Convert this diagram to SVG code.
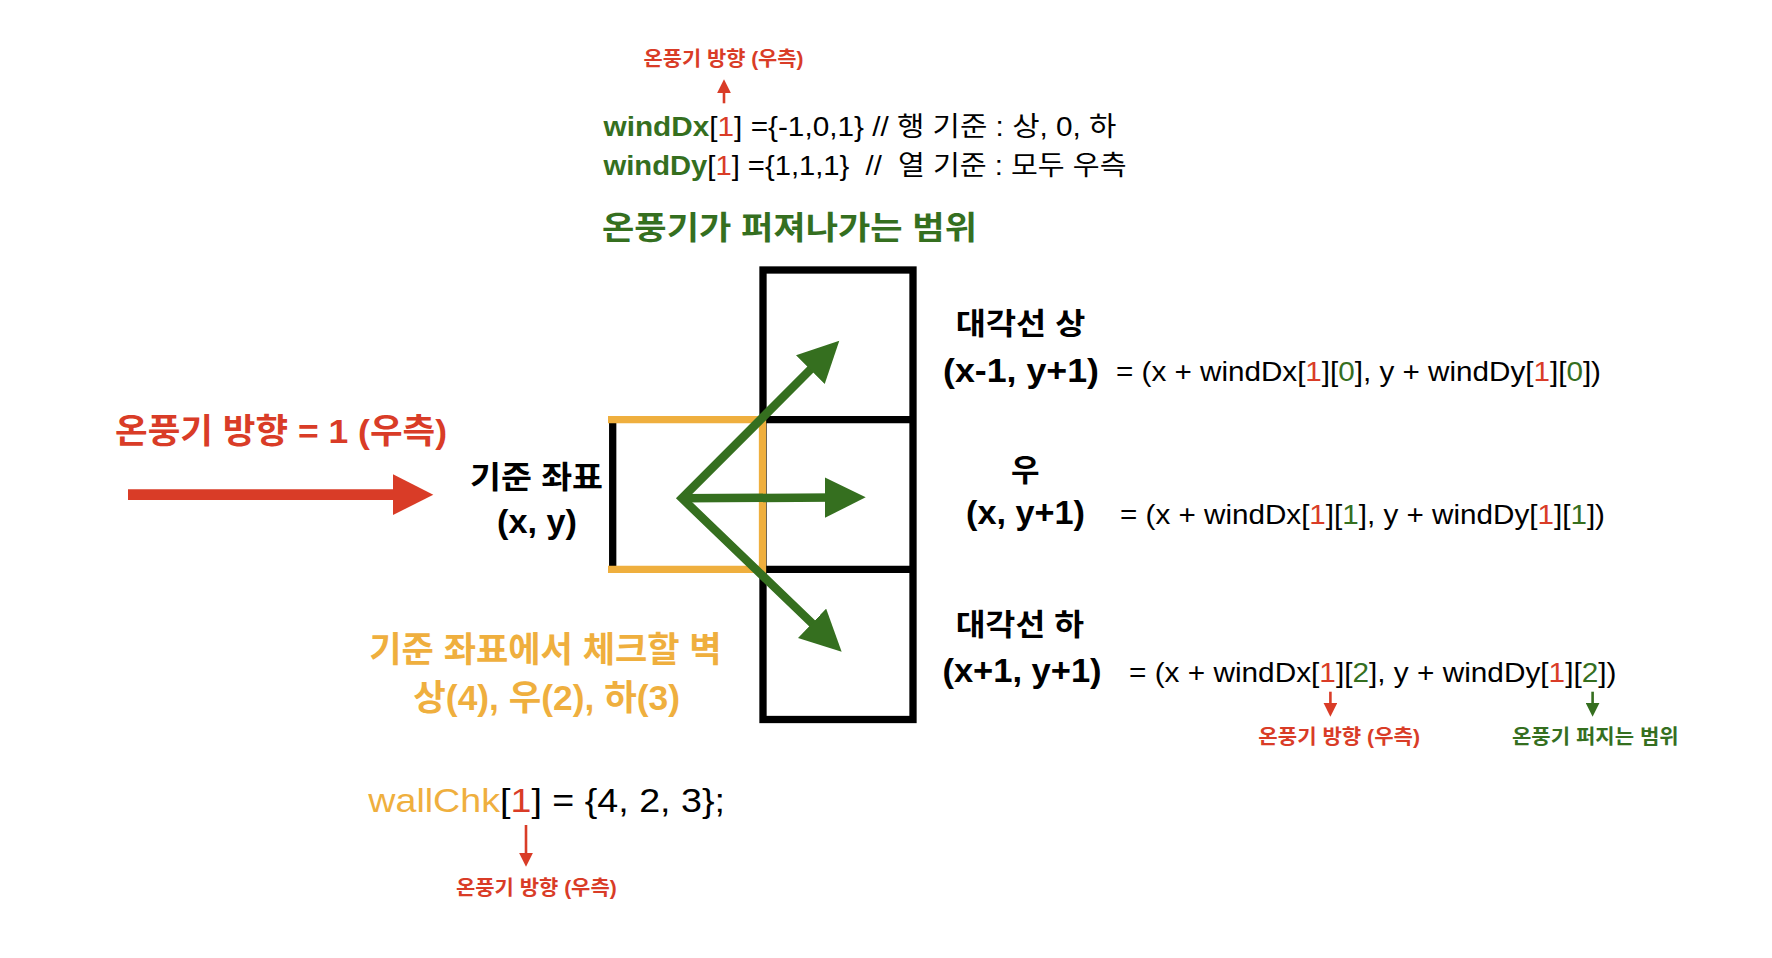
<svg xmlns="http://www.w3.org/2000/svg" width="1772" height="958" viewBox="0 0 1772 958">
<style>
text{font-family:"Liberation Sans","Noto Sans CJK KR",sans-serif;}
.b{font-weight:bold;}
.red{fill:#D93C27;}
.grn{fill:#356F1F;}
.org{fill:#EFAF3E;}
.blk{fill:#000;}
.cell{fill:none;stroke:#000;stroke-width:7.3;}
.wall{fill:none;stroke:#EFAF3E;stroke-width:7.3;stroke-linejoin:miter;}
.gArrow{fill:none;stroke:#356F1F;stroke-width:8.5;stroke-linejoin:miter;}
.rArrow{stroke:#D93C27;stroke-width:10.7;}
.sR{stroke:#D93C27;stroke-width:2.6;}
.sG{stroke:#356F1F;stroke-width:2.6;}
</style>
<defs>
<marker id="hdG" markerUnits="userSpaceOnUse" viewBox="0 0 42 42" markerWidth="42" markerHeight="42" refX="10" refY="20.3" orient="auto-start-reverse"><path d="M0,0 L41,20.3 L0,40.6 z" fill="#356F1F"/></marker>
<marker id="hdR" markerUnits="userSpaceOnUse" viewBox="0 0 42 42" markerWidth="42" markerHeight="42" refX="8" refY="20.5" orient="auto"><path d="M0,0 L40.6,20.5 L0,41 z" fill="#D93C27"/></marker>
<marker id="hsR" markerUnits="userSpaceOnUse" viewBox="0 0 14 14" markerWidth="14" markerHeight="14" refX="3" refY="7" orient="auto"><path d="M0,0 L14,7 L0,14 z" fill="#D93C27"/></marker>
<marker id="hsG" markerUnits="userSpaceOnUse" viewBox="0 0 14 14" markerWidth="14" markerHeight="14" refX="3" refY="7" orient="auto"><path d="M0,0 L14,7 L0,14 z" fill="#356F1F"/></marker>
</defs>
<rect width="1772" height="958" fill="#fff"/>

<g id="header">
<text x="643.5" y="66" class="b red" font-size="20" textLength="160" lengthAdjust="spacingAndGlyphs">온풍기 방향 (우측)</text>
<text x="603.5" y="136" font-size="27" textLength="513" lengthAdjust="spacingAndGlyphs" xml:space="preserve"><tspan class="b grn">windDx</tspan><tspan>[</tspan><tspan class="red">1</tspan><tspan>] ={-1,0,1} // 행 기준 : 상, 0, 하</tspan></text>
<text x="603.5" y="174.5" font-size="27" textLength="523" lengthAdjust="spacingAndGlyphs" xml:space="preserve"><tspan class="b grn">windDy</tspan><tspan>[</tspan><tspan class="red">1</tspan><tspan>] ={1,1,1}  //  열 기준 : 모두 우측</tspan></text>
<text x="602" y="239" class="b grn" font-size="32" textLength="375" lengthAdjust="spacingAndGlyphs">온풍기가 퍼져나가는 범위</text>
</g>

<g id="grid">
<rect class="cell" x="763" y="270" width="150" height="449.5"/>
<line class="cell" x1="763" y1="419.6" x2="913" y2="419.6"/>
<line class="cell" x1="763" y1="569.4" x2="913" y2="569.4"/>
</g>

<g id="base-cell">
<line x1="612.7" y1="423" x2="612.7" y2="566" stroke="#000" stroke-width="7.3"/>
<path class="wall" d="M608,419.7 H762.5 V569.3 H608"/>
</g>

<g id="connectors">
<line class="rArrow" x1="128" y1="494.7" x2="400.7" y2="494.7" marker-end="url(#hdR)"/>
<path class="gArrow" d="M817.4,362.6 L682,498.3 L819.3,630.2" marker-start="url(#hdG)" marker-end="url(#hdG)"/>
<line class="gArrow" x1="682" y1="498.3" x2="834.7" y2="497.5" marker-end="url(#hdG)"/>
<line class="sR" x1="724" y1="103.3" x2="724" y2="90.3" marker-end="url(#hsR)"/>
<line class="sR" x1="526" y1="825" x2="526" y2="855.7" marker-end="url(#hsR)"/>
<line class="sR" x1="1330.4" y1="691.7" x2="1330.4" y2="705.7" marker-end="url(#hsR)"/>
<line class="sG" x1="1592.6" y1="691.7" x2="1592.6" y2="705.7" marker-end="url(#hsG)"/>
</g>

<g id="wind-direction">
<text x="115" y="443" class="b red" font-size="34" textLength="332" lengthAdjust="spacingAndGlyphs">온풍기 방향 = 1 (우측)</text>
</g>

<g id="base-label">
<text x="470" y="488" class="b blk" font-size="31" textLength="133" lengthAdjust="spacingAndGlyphs">기준 좌표</text>
<text x="497" y="533" class="b blk" font-size="33" textLength="80" lengthAdjust="spacingAndGlyphs">(x, y)</text>
</g>

<g id="wall-check">
<text x="369.3" y="662" class="b org" font-size="35" textLength="352.4" lengthAdjust="spacingAndGlyphs">기준 좌표에서 체크할 벽</text>
<text x="413.3" y="709.5" class="b org" font-size="35" textLength="266.7" lengthAdjust="spacingAndGlyphs">상(4), 우(2), 하(3)</text>
<text x="368.3" y="811.7" font-size="34" textLength="356.7" lengthAdjust="spacingAndGlyphs"><tspan class="org">wallChk</tspan><tspan>[</tspan><tspan class="red">1</tspan><tspan>] = {4, 2, 3};</tspan></text>
<text x="456" y="895" class="b red" font-size="20" textLength="160.7" lengthAdjust="spacingAndGlyphs">온풍기 방향 (우측)</text>
</g>

<g id="diag-up">
<text x="955.8" y="334" class="b blk" font-size="30" textLength="129.5" lengthAdjust="spacingAndGlyphs">대각선 상</text>
<text x="943" y="382" class="b blk" font-size="33" textLength="156" lengthAdjust="spacingAndGlyphs">(x-1, y+1)</text>
<text x="1116" y="381" font-size="28" textLength="485" lengthAdjust="spacingAndGlyphs">= (x + windDx[<tspan class="red">1</tspan>][<tspan class="grn">0</tspan>], y + windDy[<tspan class="red">1</tspan>][<tspan class="grn">0</tspan>])</text>
</g>

<g id="right">
<text x="1025.3" y="481" class="b blk" font-size="31" text-anchor="middle">우</text>
<text x="966" y="524" class="b blk" font-size="33" textLength="119" lengthAdjust="spacingAndGlyphs">(x, y+1)</text>
<text x="1120" y="523.5" font-size="28" textLength="485" lengthAdjust="spacingAndGlyphs">= (x + windDx[<tspan class="red">1</tspan>][<tspan class="grn">1</tspan>], y + windDy[<tspan class="red">1</tspan>][<tspan class="grn">1</tspan>])</text>
</g>

<g id="diag-down">
<text x="955.8" y="635" class="b blk" font-size="30" textLength="128.2" lengthAdjust="spacingAndGlyphs">대각선 하</text>
<text x="942.4" y="681.7" class="b blk" font-size="33" textLength="159.2" lengthAdjust="spacingAndGlyphs">(x+1, y+1)</text>
<text x="1129" y="681.7" font-size="28" textLength="487.5" lengthAdjust="spacingAndGlyphs">= (x + windDx[<tspan class="red">1</tspan>][<tspan class="grn">2</tspan>], y + windDy[<tspan class="red">1</tspan>][<tspan class="grn">2</tspan>])</text>
<text x="1258.3" y="744" class="b red" font-size="20" textLength="161.7" lengthAdjust="spacingAndGlyphs">온풍기 방향 (우측)</text>
<text x="1512" y="744" class="b grn" font-size="20" textLength="166.7" lengthAdjust="spacingAndGlyphs">온풍기 퍼지는 범위</text>
</g>
</svg>
